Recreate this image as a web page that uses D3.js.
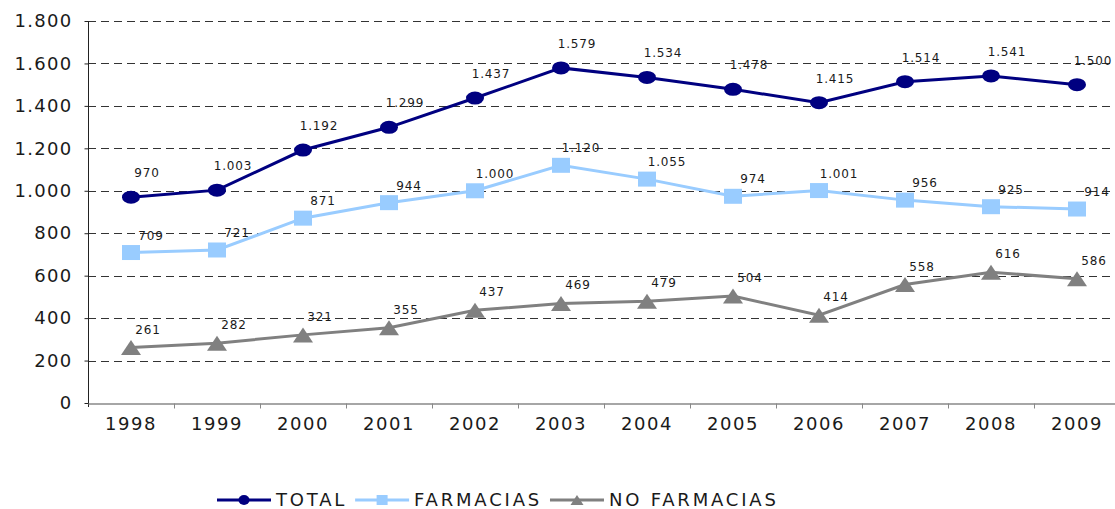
<!DOCTYPE html>
<html>
<head>
<meta charset="utf-8">
<script src="https://cdn.jsdelivr.net/npm/d3@7"></script>
<style>
  html, body { margin: 0; padding: 0; background: #fff; }
  svg { display: block; font-family: 'DejaVu Sans', Verdana, sans-serif; }
</style>
</head>
<body>
<svg id="chart" width="1115" height="509"></svg>
<script>
const YEARS = ['1998', '1999', '2000', '2001', '2002', '2003',
  '2004', '2005', '2006', '2007', '2008', '2009'];
const TOTAL = [970, 1003, 1192, 1299, 1437, 1579, 1534, 1478, 1415, 1514, 1541, 1500];
const FARMACIAS = [709, 721, 871, 944, 1000, 1120, 1055, 974, 1001, 956, 925, 914];
const NO_FARMACIAS = [261, 282, 321, 355, 437, 469, 479, 504, 414, 558, 616, 586];
const Y_TICKS = [0, 200, 400, 600, 800, 1000, 1200, 1400, 1600, 1800];
const SERIES_NAMES = ['TOTAL', 'FARMACIAS', 'NO FARMACIAS'];

const WIDTH = 1115;
const HEIGHT = 509;
const PLOT = {left: 88, right: 1120, top: 21, bottom: 403};

// spanish number format: 1.800
const locale = d3.formatLocale({
  decimal: ',', thousands: '.', grouping: [3], currency: ['', ' €'],
});
const fmt = locale.format(',d');

const series = [
  {name: SERIES_NAMES[0], values: TOTAL, color: '#000080', shape: 'circle',
    labelDx: 16, labelDy: -24},
  {name: SERIES_NAMES[1], values: FARMACIAS, color: '#99ccff', shape: 'square',
    labelDx: 20, labelDy: -17},
  {name: SERIES_NAMES[2], values: NO_FARMACIAS, color: '#808080', shape: 'triangle',
    labelDx: 17, labelDy: -18},
];

const x = d3.scaleBand().domain(YEARS).range([PLOT.left, PLOT.right]);
const y = d3.scaleLinear().domain([0, 1800]).range([PLOT.bottom, PLOT.top]);
const cx = year => x(year) + x.bandwidth() / 2;

/**
 * Builds a marker path centred on 0,0.
 * @param {string} shape
 * @param {number} w full width
 * @param {number} h full height
 * @return {string}
 */
function markerPath(shape, w, h) {
  const a = w / 2, b = h / 2;
  if (shape === 'square') {
    return `M${-a},${-b}H${a}V${b}H${-a}Z`;
  }
  if (shape === 'triangle') {
    return `M0,${-b}L${a},${b}L${-a},${b}Z`;
  }
  // ellipse made of two arcs
  return `M${-a},0A${a},${b} 0 1,0 ${a},0A${a},${b} 0 1,0 ${-a},0Z`;
}

const MARKER_SIZE = {circle: [18, 13], square: [18, 15], triangle: [20, 15]};
const LEGEND_MARKER = {circle: [11, 10], square: [11, 10], triangle: [13, 10]};

const svg = d3.select('#chart');

// gridlines
svg.append('g')
    .attr('class', 'grid')
    .selectAll('line')
    .data(Y_TICKS.filter(d => d > 0))
    .join('line')
    .attr('x1', PLOT.left)
    .attr('x2', WIDTH)
    .attr('y1', d => Math.round(y(d)) + 0.5)
    .attr('y2', d => Math.round(y(d)) + 0.5)
    .attr('stroke', '#333')
    .attr('stroke-width', 1)
    .attr('stroke-dasharray', '8,5');

// y axis
const yAxis = svg.append('g')
    .attr('transform', `translate(${PLOT.left + 0.5},0)`)
    .call(d3.axisLeft(y).tickValues(Y_TICKS).tickFormat(fmt)
        .tickSize(4).tickPadding(12));
yAxis.select('.domain').attr('stroke', '#222')
    .attr('d', `M0,${PLOT.top}V${PLOT.bottom + 4}`);
yAxis.selectAll('.tick line').attr('stroke', '#222');
yAxis.selectAll('.tick text')
    .attr('font-size', 18)
    .attr('letter-spacing', 1.3)
    .attr('fill', '#1a1a1a')
    .attr('font-family', "'DejaVu Sans', Verdana, sans-serif");

// x axis
const xAxis = svg.append('g')
    .attr('transform', `translate(0,${PLOT.bottom + 0.5})`)
    .call(d3.axisBottom(x).tickSize(0).tickPadding(14));
xAxis.select('.domain').attr('stroke', '#888').attr('stroke-width', 1.5);
xAxis.selectAll('.tick text')
    .attr('font-size', 18)
    .attr('letter-spacing', 1.5)
    .attr('fill', '#1a1a1a')
    .attr('font-family', "'DejaVu Sans', Verdana, sans-serif");
// tick marks between categories
xAxis.selectAll('.boundary')
    .data(YEARS.slice(1))
    .join('line')
    .attr('class', 'boundary')
    .attr('x1', d => Math.round(x(d)) + 0.5)
    .attr('x2', d => Math.round(x(d)) + 0.5)
    .attr('y1', 0)
    .attr('y2', 5)
    .attr('stroke', '#888');

// lines, markers and value labels
const line = d3.line().x(d => cx(d.year)).y(d => y(d.value));

for (const s of series) {
  const points = YEARS.map((year, i) => ({year, value: s.values[i]}));
  const g = svg.append('g').attr('class', 'series');

  g.append('path')
      .datum(points)
      .attr('d', line)
      .attr('fill', 'none')
      .attr('stroke', s.color)
      .attr('stroke-width', 3);

  const [mw, mh] = MARKER_SIZE[s.shape];
  g.selectAll('.marker')
      .data(points)
      .join('path')
      .attr('class', 'marker')
      .attr('d', markerPath(s.shape, mw, mh))
      .attr('transform', d => `translate(${cx(d.year)},${y(d.value)})`)
      .attr('fill', s.color);
}

// labels on top of everything
for (const s of series) {
  const points = YEARS.map((year, i) => ({year, value: s.values[i]}));
  svg.append('g')
      .selectAll('text')
      .data(points)
      .join('text')
      .attr('x', d => cx(d.year) + s.labelDx)
      .attr('y', d => y(d.value) + s.labelDy + 4)
      .attr('text-anchor', 'middle')
      .attr('font-size', 12)
      .attr('letter-spacing', 0.8)
      .attr('fill', '#1a1a1a')
      .text(d => fmt(d.value));
}

// legend
const legend = svg.append('g').attr('transform', 'translate(217,500)');
let offset = 0;
for (const s of series) {
  const item = legend.append('g').attr('transform', `translate(${offset},0)`);
  item.append('line')
      .attr('x1', 0).attr('x2', 54)
      .attr('y1', 0).attr('y2', 0)
      .attr('stroke', s.color)
      .attr('stroke-width', 3);
  const [lw, lh] = LEGEND_MARKER[s.shape];
  item.append('path')
      .attr('d', markerPath(s.shape, lw, lh))
      .attr('transform', 'translate(27,0)')
      .attr('fill', s.color);
  const label = item.append('text')
      .attr('x', 59)
      .attr('y', 6)
      .attr('font-size', 18)
      .attr('letter-spacing', 2.8)
      .attr('fill', '#1a1a1a')
      .text(s.name);
  offset += 59 + label.node().getComputedTextLength() + 8;
}
</script>
</body>
</html>
